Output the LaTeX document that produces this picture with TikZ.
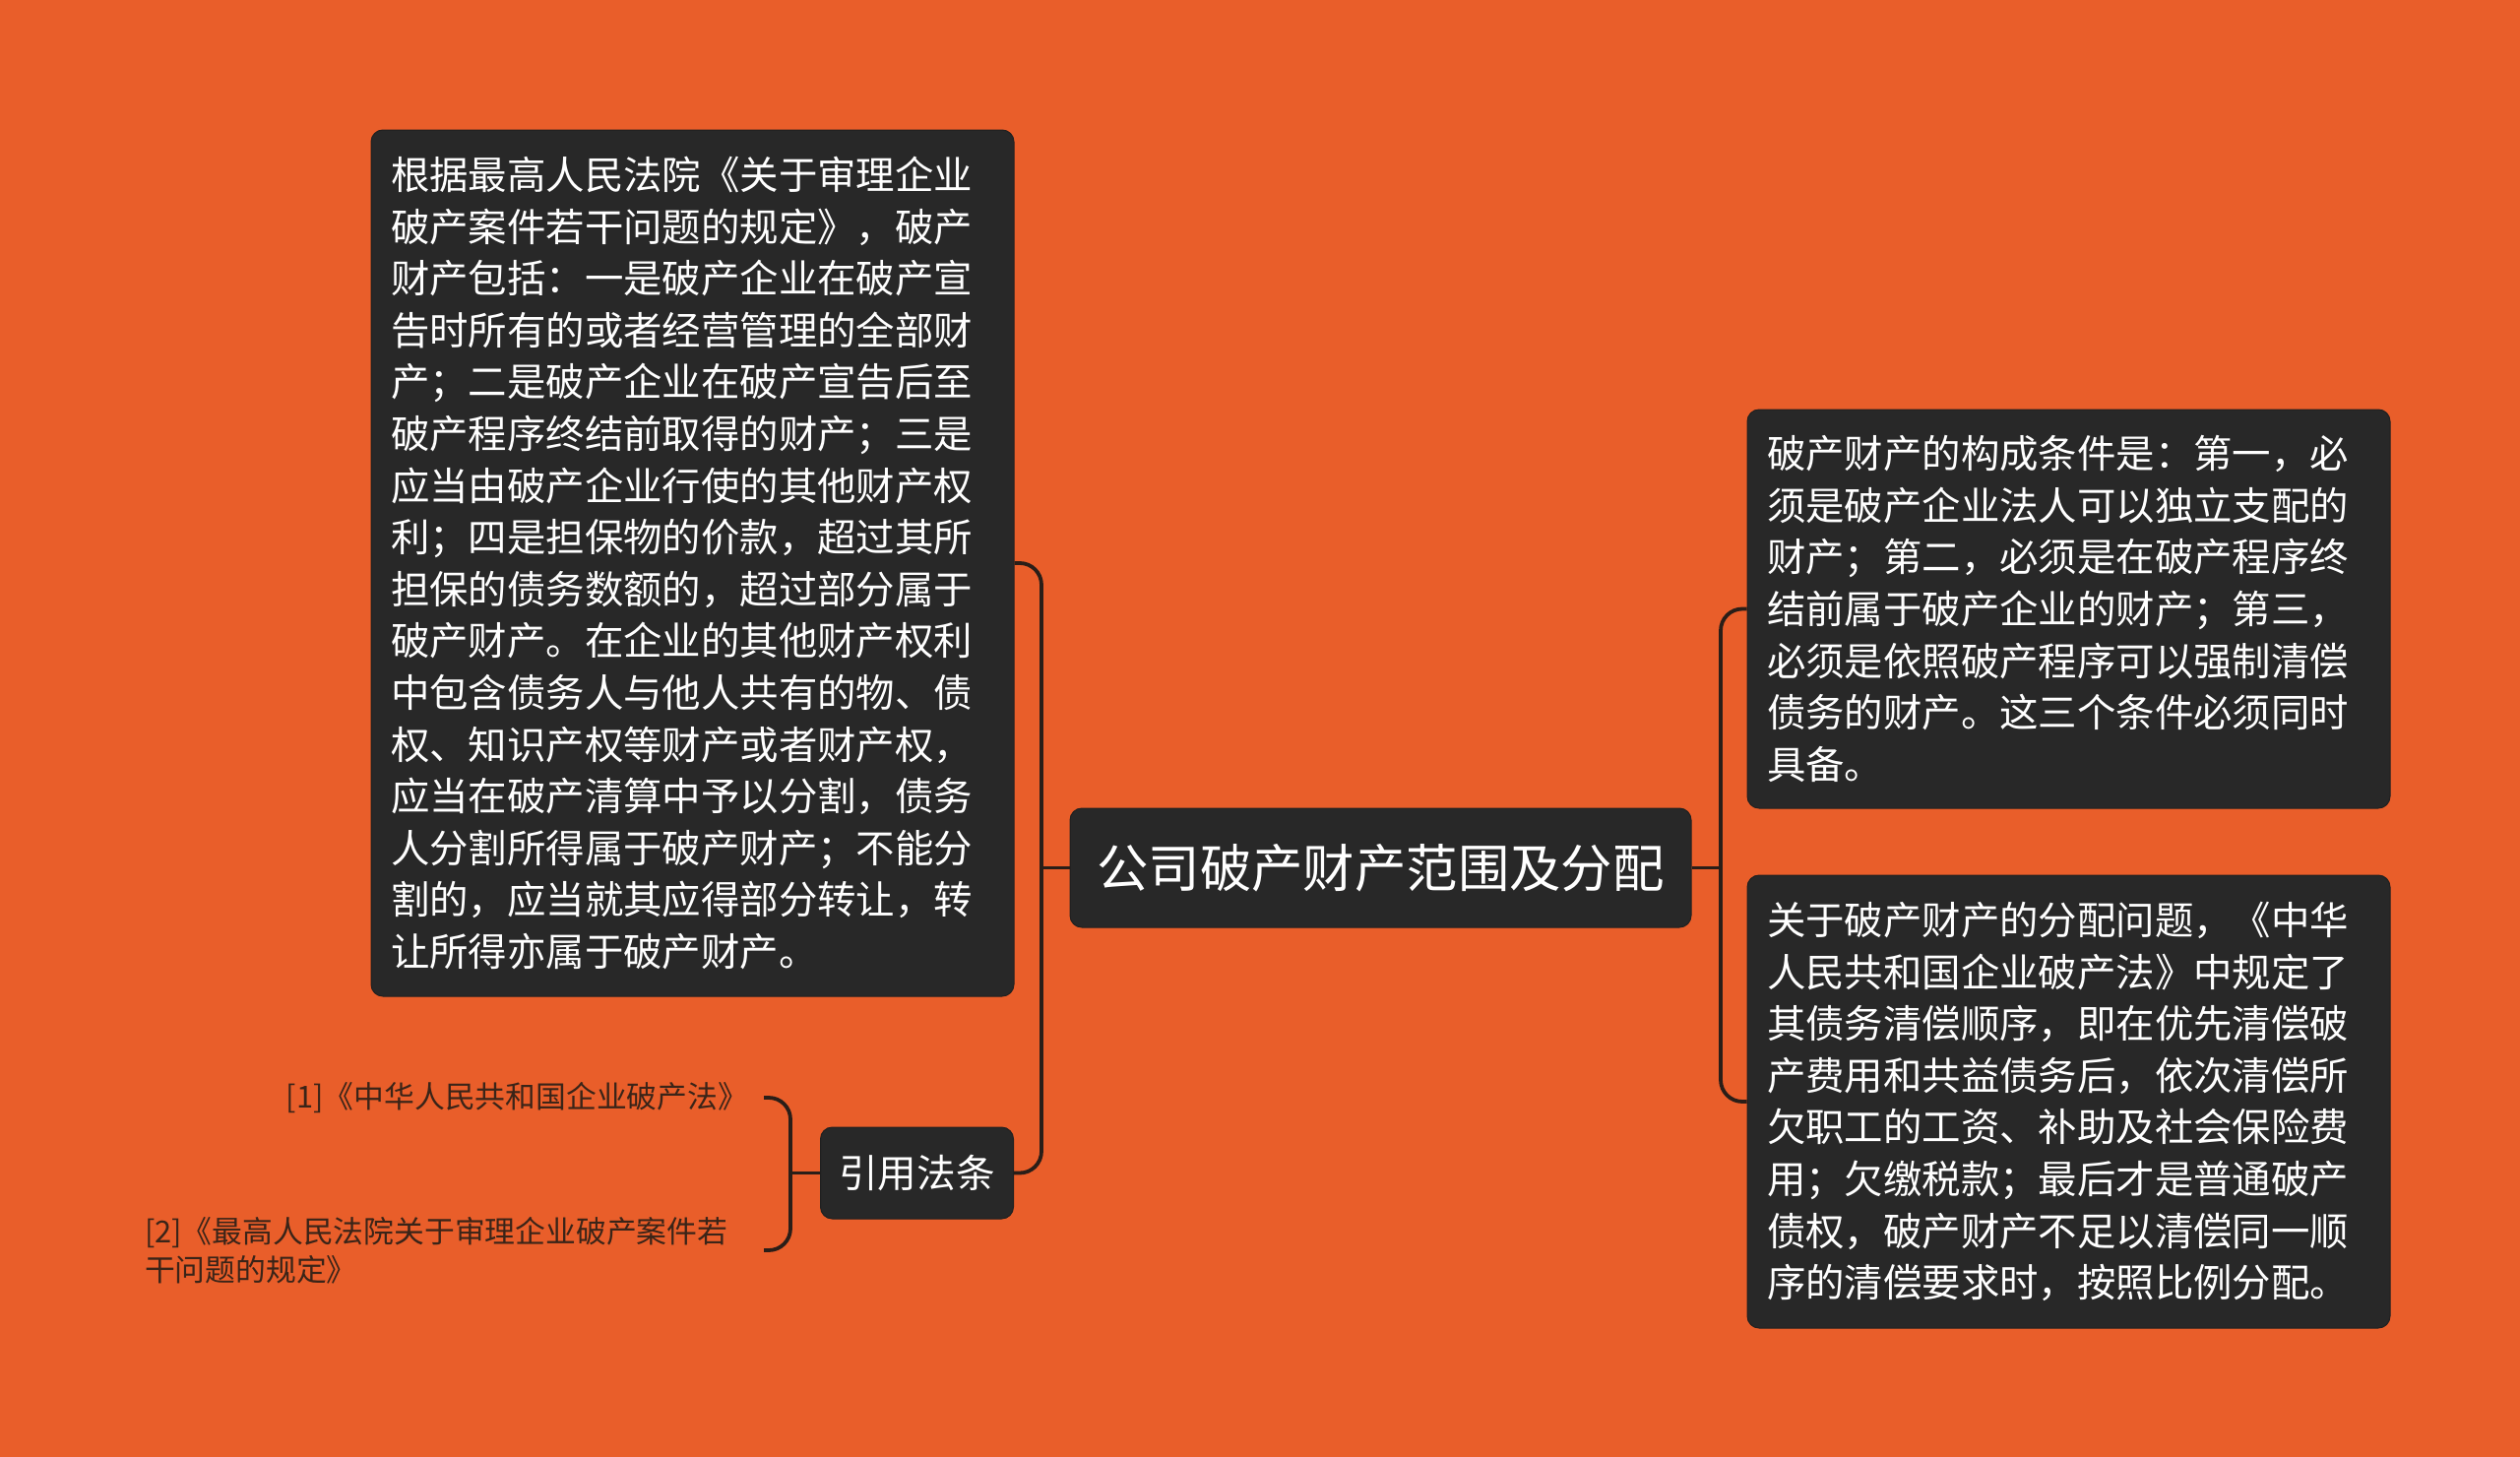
\documentclass[tikz,border=0pt]{standalone}
\usepackage{fontspec}
\setmainfont{Noto Sans CJK SC}
\definecolor{bgorange}{HTML}{E95E2A}
\definecolor{boxdark}{HTML}{282828}
\definecolor{linedark}{HTML}{2A1E18}
\definecolor{labelbrown}{HTML}{3A2418}
\tikzset{
  darkbox/.style={draw=boxdark!80!black, line width=1pt, fill=boxdark, text=white, rounded corners=12pt, inner xsep=20pt, inner ysep=0pt},
  bodytext/.style={darkbox, text width=613pt, align=left, font=\fontsize{39.4}{52.6}\selectfont},
  conn/.style={draw=linedark, line width=3.8pt, rounded corners=22pt},
  reflabel/.style={text=labelbrown, inner xsep=0pt, inner ysep=2pt, outer xsep=28pt, font=\fontsize{30.8}{39}\selectfont}
}
\begin{document}
\begin{tikzpicture}[x=1pt,y=-1pt]
\fill[bgorange] (0,0) rectangle (2560,1480);
\useasboundingbox (0,0) rectangle (2560,1480);

\node[darkbox, minimum width=631pt, minimum height=121pt, inner xsep=0pt, font=\fontsize{52.4}{60}\selectfont] (center) at (1402.5,881.5) {公司破产财产范围及分配};

\node[bodytext, minimum height=880pt] (left) at (703.5,572) {根据最高人民法院《关于审理企业\\破产案件若干问题的规定》，破产\\财产包括：一是破产企业在破产宣\\告时所有的或者经营管理的全部财\\产；二是破产企业在破产宣告后至\\破产程序终结前取得的财产；三是\\应当由破产企业行使的其他财产权\\利；四是担保物的价款，超过其所\\担保的债务数额的，超过部分属于\\破产财产。在企业的其他财产权利\\中包含债务人与他人共有的物、债\\权、知识产权等财产或者财产权，\\应当在破产清算中予以分割，债务\\人分割所得属于破产财产；不能分\\割的，应当就其应得部分转让，转\\让所得亦属于破产财产。};

\node[darkbox, minimum width=196pt, minimum height=93pt, inner xsep=0pt, font=\fontsize{39.6}{46}\selectfont] (cite) at (931.5,1191.5) {引用法条};

\node[bodytext, minimum height=405pt] (rone) at (2101.5,618.5) {破产财产的构成条件是：第一，必\\须是破产企业法人可以独立支配的\\财产；第二，必须是在破产程序终\\结前属于破产企业的财产；第三，\\必须是依照破产程序可以强制清偿\\债务的财产。这三个条件必须同时\\具备。};

\node[bodytext, minimum height=460pt] (rtwo) at (2101.5,1119) {关于破产财产的分配问题，《中华\\人民共和国企业破产法》中规定了\\其债务清偿顺序，即在优先清偿破\\产费用和共益债务后，依次清偿所\\欠职工的工资、补助及社会保险费\\用；欠缴税款；最后才是普通破产\\债权，破产财产不足以清偿同一顺\\序的清偿要求时，按照比例分配。};

\node[reflabel, anchor=east, align=right, outer xsep=16pt] (refa) at (776,1115) {[1]《中华人民共和国企业破产法》};
\node[reflabel, anchor=east, text width=601pt, align=left] (refb) at (776,1270) {[2]《最高人民法院关于审理企业破产案件若\\干问题的规定》};

\coordinate (lt) at (1058,881.5);
\coordinate (rt) at (1748,881.5);
\coordinate (bt) at (803,1191.5);

\draw[conn] (left.east) -| (lt) |- (cite.east);
\draw[conn] (center.west) -- (lt);
\draw[conn] (rone.west) -| (rt) |- (rtwo.west);
\draw[conn] (center.east) -- (rt);
\draw[conn] (refa.east) -| (bt) |- (refb.east);
\draw[conn] (cite.west) -- (bt);
\end{tikzpicture}
\end{document}
